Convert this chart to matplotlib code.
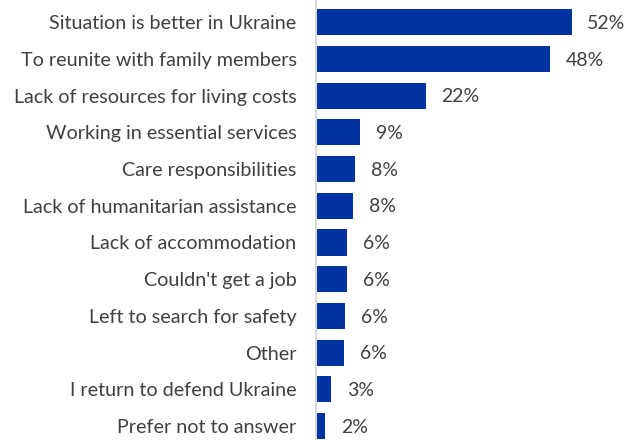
import matplotlib.pyplot as plt

# data
reasons = [
    "Situation is better in Ukraine",
    "To reunite with family members",
    "Lack of resources for living costs",
    "Working in essential services",
    "Care responsibilities",
    "Lack of humanitarian assistance",
    "Lack of accommodation",
    "Couldn't get a job",
    "Left to search for safety",
    "Other",
    "I return to defend Ukraine",
    "Prefer not to answer",
]
shares = [52, 47.7, 22.3, 9.0, 8.0, 7.5, 6.3, 6.3, 6.0, 5.7, 3.1, 1.9]
share_labels = ["52%", "48%", "22%", "9%", "8%", "8%", "6%", "6%", "6%", "6%", "3%", "2%"]

plt.rcParams['font.family'] = ['Lato', 'DejaVu Sans']
text_col = "#404040"

fig = plt.figure(figsize=(6.37, 4.40), dpi=100)
ax = fig.add_axes([316 / 637, 0, 1 - 316 / 637, 1])

ypos = list(range(len(reasons)))
ax.barh(ypos, shares, height=0.71, color="#0033a0")

for y, v, lab in zip(ypos, shares, share_labels):
    ax.text(v + 3.2, y + 0.03, lab, va="center", ha="left", fontsize=14, color=text_col)

ax.set_yticks(ypos)
ax.set_yticklabels(reasons, fontsize=14.2, color=text_col)
ax.tick_params(axis="y", length=0, pad=14)
ax.set_xticks([])
ax.set_xlim(0, 65.3)
ax.set_ylim(11.38, -0.605)

for s in ["top", "right", "bottom"]:
    ax.spines[s].set_visible(False)
ax.spines["left"].set_color("#d9d9d9")
ax.spines["left"].set_linewidth(1.5)

fig.savefig("out.png", dpi=100)
